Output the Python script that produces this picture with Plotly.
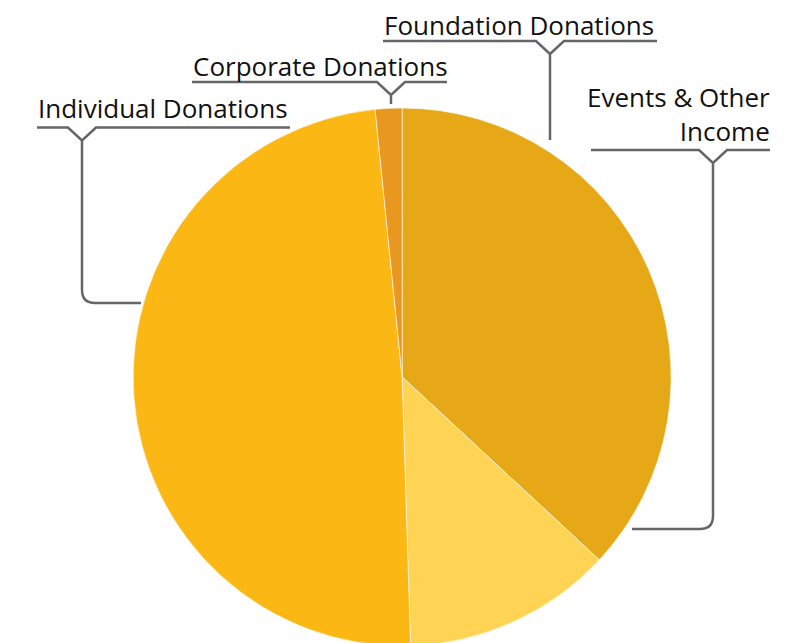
import plotly.graph_objects as go

W, H = 797, 643
OFF = 8  # page body margin shifts the figure by 8px

# slice data, clockwise from 12 o'clock
labels = ["Foundation Donations", "Events & Other Income", "Individual Donations", "Corporate Donations"]
values = [36.9, 12.6, 48.9, 1.6]
colors = ["#E6A817", "#FFD454", "#FBB714", "#E8981F"]

LINE_COLOR = "#666666"
TEXT_COLOR = "#111111"
FONT = "Open Sans"


def px(x):
    return (x - OFF) / W


def py(y):
    return 1 - (y - OFF) / H


def P(x, y):
    return f"{px(x):.5f},{py(y):.5f}"


# callout layout in screen pixels: text, text anchor, underline, notch, leader end
callouts = [
    dict(text="Foundation Donations", tx=383, ty=25, anchor="left",
         x0=383, x1=657, uy=41, nx=550, end=("v", 140)),
    dict(text="Corporate Donations", tx=192, ty=66, anchor="left",
         x0=192, x1=447, uy=82, nx=391, end=("v", 104)),
    dict(text="Individual Donations", tx=37, ty=108, anchor="left",
         x0=37, x1=290, uy=127.5, nx=82, end=("h", 303, 141)),
    dict(text="Events & Other<br>Income", tx=771, ty=114, anchor="right",
         x0=591, x1=770, uy=150, nx=713, end=("h", 529, 632)),
]

fig = go.Figure()
fig.add_trace(go.Pie(
    labels=labels,
    values=values,
    sort=False,
    direction="clockwise",
    rotation=0,
    marker=dict(colors=colors, line=dict(color="rgba(255,255,255,0.6)", width=1)),
    textinfo="none",
    hoverinfo="label+percent",
    showlegend=False,
    domain=dict(x=[0.0, 0.989], y=[0.0078, 1 - 100 / H]),
))

shapes = []
annotations = []
notch_w, notch_d, rad = 14, 13, 13
for c in callouts:
    nx, uy = c["nx"], c["uy"]
    path = (f"M{P(c['x0'], uy)} L{P(nx - notch_w, uy)} L{P(nx, uy + notch_d)} "
            f"L{P(nx + notch_w, uy)} L{P(c['x1'], uy)} M{P(nx, uy + notch_d)} ")
    end = c["end"]
    if end[0] == "v":
        path += f"L{P(nx, end[1])}"
    else:
        ey, ex = end[1], end[2]
        sgn = 1 if ex > nx else -1
        path += (f"L{P(nx, ey - rad)} Q{P(nx, ey)} {P(nx + sgn * rad, ey)} "
                 f"L{P(ex, ey)}")
    shapes.append(dict(type="path", xref="paper", yref="paper", path=path,
                       line=dict(color=LINE_COLOR, width=2.5)))
    annotations.append(dict(
        text=c["text"], x=px(c["tx"]), y=py(c["ty"]), xref="paper", yref="paper",
        xanchor=c["anchor"], yanchor="middle", align=c["anchor"], showarrow=False,
        font=dict(family=FONT, size=26, color=TEXT_COLOR), borderpad=0,
    ))

fig.update_layout(
    width=W,
    height=H,
    margin=dict(l=0, r=0, t=0, b=0),
    paper_bgcolor="white",
    plot_bgcolor="white",
    shapes=shapes,
    annotations=annotations,
)

fig.write_html("out.html")
